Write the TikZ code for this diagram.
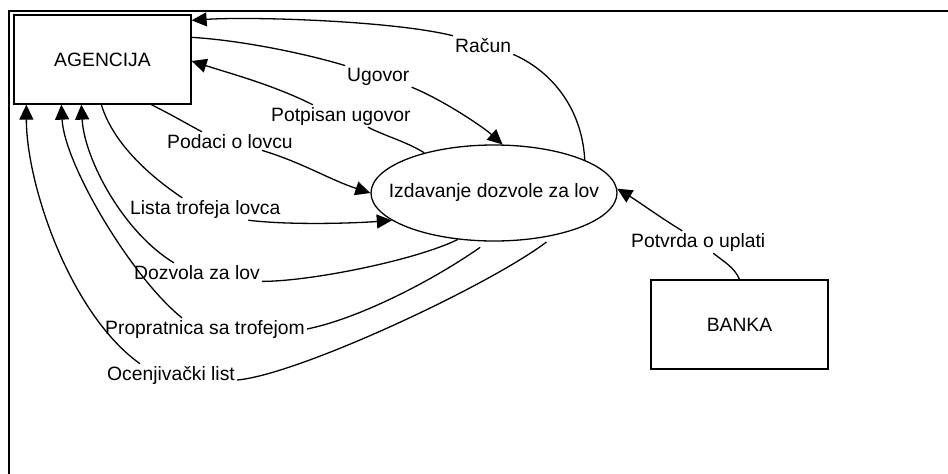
\documentclass[tikz,border=0pt]{standalone}
\usepackage{fontspec}
\setmainfont{Liberation Sans}
\usetikzlibrary{arrows.meta,shapes.geometric,calc}
\begin{document}
\begin{tikzpicture}[x=1pt,y=-1pt,
  every node/.style={font=\fontsize{19.3pt}{23pt}\selectfont},
  conn/.style={line width=1.3pt},
  arr/.style={conn,-{Triangle[length=15pt,width=14pt]}},
  ent/.style={draw,line width=1.3pt,minimum width=177pt,minimum height=89pt,inner sep=0pt},
  proc/.style={draw,ellipse,line width=1.3pt,minimum width=246pt,minimum height=96pt,inner sep=0pt},
  lbl/.style={inner sep=2pt,anchor=base west}]
\useasboundingbox (0,0) rectangle (948,474);
\draw[line width=2.5pt] (948,11) -- (9,11) -- (9,474);

\node[ent] (ag) at (102.5,59.5) {AGENCIJA};
\node[ent] (bk) at (739.5,324.5) {BANKA};
\node[proc,label={center:Izdavanje dozvole za lov}] (ell) at (494,193) {};

\node[lbl] (lRac) at (453,52) {Račun};
\node[lbl] (lUg) at (345,81) {Ugovor};
\node[lbl] (lPot) at (269,121) {Potpisan ugovor};
\node[lbl] (lPod) at (165,148) {Podaci o lovcu};
\node[lbl] (lLis) at (128,214) {Lista trofeja lovca};
\node[lbl] (lDoz) at (132,279) {Dozvola za lov};
\node[lbl] (lPro) at (103,334) {Propratnica sa trofejom};
\node[lbl] (lOce) at (105,380) {Ocenjivački list};
\node[lbl] (lPtv) at (629,247) {Potvrda o uplati};

% Racun
\draw[conn] (ell.20) .. controls +(-3,-55) and +(35,15) .. (lRac.south east);
\draw[arr] (lRac.north west) .. controls +(-60,-15) and +(60,-4) .. ([yshift=-6pt]ag.north east);
% Ugovor
\draw[conn] ([yshift=-23pt]ag.north east) .. controls +(50,3) and +(-40,-12) .. (lUg.north west);
\draw[arr] (lUg.south east) .. controls +(30,12) and +(-20,-18) .. (ell.80);
% Potpisan ugovor
\draw[conn] (ell.150) .. controls +(-20,-12) and +(20,10) .. ([xshift=27pt]lPot.south);
\draw[arr] ([xshift=-28pt]lPot.north) .. controls +(-40,-20) and +(40,13) .. ([yshift=-1.5pt]ag.east);
% Podaci o lovcu
\draw[conn] ([xshift=138pt]ag.south west) .. controls +(20,10) and +(-15,-8) .. ([xshift=-28pt]lPod.north);
\draw[arr] ([xshift=32pt]lPod.south) .. controls +(40,12) and +(-40,-13) .. (ell.west);
% Lista trofeja lovca
\draw[conn] ([xshift=88pt]ag.south west) .. controls +(12,40) and +(-30,-20) .. ([xshift=-23pt]lLis.north);
\draw[arr] ([xshift=43pt]lLis.south) .. controls +(40,5) and +(-40,3) .. (ell.195);
% Dozvola za lov
\draw[conn] (ell.232) .. controls +(-40,20) and +(50,0) .. (lDoz.south east);
\draw[arr] ([xshift=-23pt]lDoz.north) .. controls +(-50,-30) and +(3,55) .. ([xshift=68pt]ag.south west);
% Propratnica sa trofejom
\draw[conn] ([yshift=-6pt]ell.254) .. controls +(-50,35) and +(50,-10) .. (lPro.east);
\draw[arr] ([xshift=-23pt]lPro.north) .. controls +(-50,-40) and +(3,60) .. ([xshift=48pt]ag.south west);
% Ocenjivacki list
\draw[conn] ([yshift=-5pt]ell.320) .. controls +(-60,45) and +(60,-5) .. (lOce.base east);
\draw[arr] ([xshift=-31pt]lOce.north) .. controls +(-70,-50) and +(0,80) .. ([xshift=13pt]ag.south west);
% Potvrda o uplati
\draw[conn] (bk.north) .. controls +(-5,-12) and +(10,8) .. ([xshift=15pt]lPtv.south);
\draw[arr] ([xshift=-16pt]lPtv.north) .. controls +(-20,-12) and +(20,12) .. (ell.2);
\end{tikzpicture}
\end{document}
